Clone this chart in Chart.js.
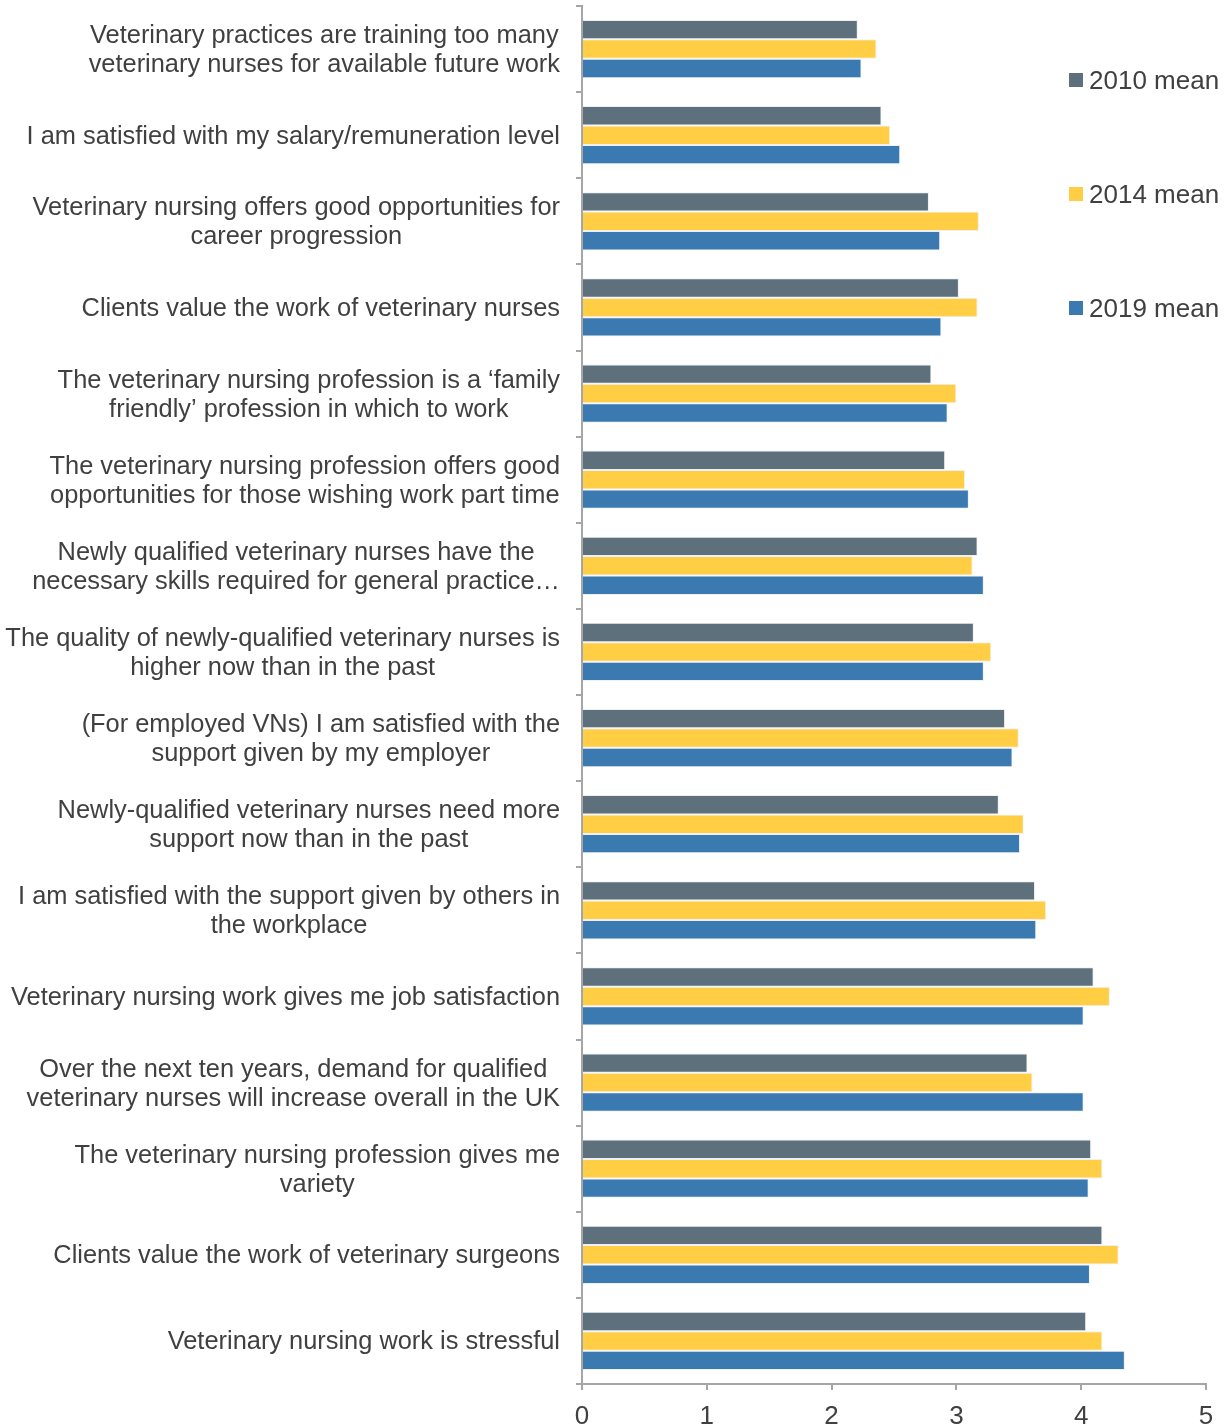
<!DOCTYPE html>
<html>
<head>
<meta charset="utf-8">
<script src="https://cdn.jsdelivr.net/npm/chart.js@4"></script>
<style>
  body { margin: 0; background: #fff; font-family: "Liberation Sans", Arial, sans-serif; }
  #wrap { position: relative; width: 1231px; height: 1426px; }
  .leg { position: absolute; left: 1069px; font-size: 26px; color: #404040; line-height: 30px; white-space: nowrap; }
  .leg span { display: inline-block; width: 14px; height: 14px; margin-right: 6px; vertical-align: 2px; }
</style>
</head>
<body>
<div id="wrap">
  <canvas id="chart" width="1231" height="1426"></canvas>
  <div id="legend"></div>
</div>
<script>
// Survey statements (top to bottom)
const categories = [
  ['Veterinary practices are training too many', 'veterinary nurses for available future work'],
  ['I am satisfied with my salary/remuneration level'],
  ['Veterinary nursing offers good opportunities for', 'career progression'],
  ['Clients value the work of veterinary nurses'],
  ['The veterinary nursing profession is a \u2018family', 'friendly\u2019 profession in which to work'],
  ['The veterinary nursing profession offers good', 'opportunities for those wishing work part time'],
  ['Newly qualified veterinary nurses have the', 'necessary skills required for general practice\u2026'],
  ['The quality of newly-qualified veterinary nurses is', 'higher now than in the past'],
  ['(For employed VNs) I am satisfied with the', 'support given by my employer'],
  ['Newly-qualified veterinary nurses need more', 'support now than in the past'],
  ['I am satisfied with the support given by others in', 'the workplace'],
  ['Veterinary nursing work gives me job satisfaction'],
  ['Over the next ten years, demand for qualified', 'veterinary nurses will increase overall in the UK'],
  ['The veterinary nursing profession gives me', 'variety'],
  ['Clients value the work of veterinary surgeons'],
  ['Veterinary nursing work is stressful']
];

const mean2010 = [2.21, 2.40, 2.78, 3.02, 2.80, 2.91, 3.17, 3.14, 3.39, 3.34, 3.63, 4.10, 3.57, 4.08, 4.17, 4.04];
const mean2014 = [2.36, 2.47, 3.18, 3.17, 3.00, 3.07, 3.13, 3.28, 3.50, 3.54, 3.72, 4.23, 3.61, 4.17, 4.30, 4.17];
const mean2019 = [2.24, 2.55, 2.87, 2.88, 2.93, 3.10, 3.22, 3.22, 3.45, 3.51, 3.64, 4.02, 4.02, 4.06, 4.07, 4.35];

const seriesNames = ['2010 mean', '2014 mean', '2019 mean'];
const seriesColors = ['#5d707b', '#ffce44', '#3a7ab0'];
const xTicks = [0, 1, 2, 3, 4, 5];

const textColor = '#404040';
const axisColor = '#a6a6a6';
const fontFamily = '"Liberation Sans", Arial, sans-serif';

// Multi-line category labels: block right aligned, lines centred inside it
const labelPlugin = {
  id: 'catLabels',
  afterDraw(chart) {
    const ctx = chart.ctx;
    const y = chart.scales.y;
    const right = 560, lh = 29;
    ctx.save();
    ctx.font = '25.4px ' + fontFamily;
    ctx.fillStyle = textColor;
    ctx.textAlign = 'center';
    ctx.textBaseline = 'middle';
    categories.forEach((lines, i) => {
      const w = Math.max(...lines.map(l => ctx.measureText(l).width));
      const cx = right - w / 2;
      const cy = y.getPixelForTick(i) + 1.5;
      lines.forEach((l, j) => {
        ctx.fillText(l, cx, cy + (j - (lines.length - 1) / 2) * lh);
      });
    });
    ctx.restore();
  }
};

const datasets = [mean2010, mean2014, mean2019].map((d, i) => ({
  label: seriesNames[i],
  data: d,
  backgroundColor: seriesColors[i],
  borderColor: 'rgba(235,240,244,0.9)',
  borderWidth: 1,
  barPercentage: 1,
  categoryPercentage: 0.675
}));

new Chart(document.getElementById('chart'), {
  type: 'bar',
  data: { labels: categories.map(c => c.join(' ')), datasets },
  options: {
    indexAxis: 'y',
    responsive: false,
    animation: false,
    layout: { padding: { top: 6, right: 25, left: 0, bottom: 0 } },
    plugins: { legend: { display: false }, tooltip: { enabled: false } },
    scales: {
      y: {
        ticks: { display: false },
        grid: { drawOnChartArea: false, drawTicks: true, tickLength: 6, color: axisColor, lineWidth: 2, offset: true },
        border: { display: true, color: axisColor, width: 2 },
        afterFit: (s) => { s.width = 582; }
      },
      x: {
        min: 0,
        max: 5,
        afterBuildTicks: (s) => { s.ticks = xTicks.map(v => ({ value: v })); },
        ticks: { color: textColor, font: { family: fontFamily, size: 26 }, padding: 11 },
        grid: { drawOnChartArea: false, drawTicks: true, tickLength: 6, color: axisColor, lineWidth: 2 },
        border: { display: true, color: axisColor, width: 2 },
        afterFit: (s) => { s.height = 42; }
      }
    }
  },
  plugins: [labelPlugin]
});

// Legend on the right
const legendTops = [65, 179, 293];
const legend = document.getElementById('legend');
seriesNames.forEach((name, i) => {
  const d = document.createElement('div');
  d.className = 'leg';
  d.style.top = legendTops[i] + 'px';
  d.innerHTML = '<span style="background:' + seriesColors[i] + '"></span>' + name;
  legend.appendChild(d);
});
</script>
</body>
</html>
